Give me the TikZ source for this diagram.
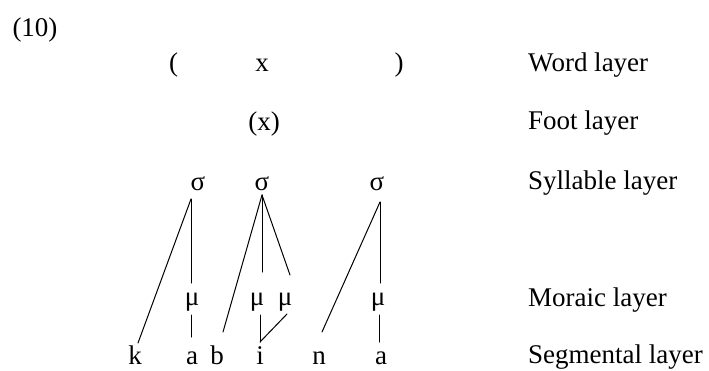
\documentclass[tikz,border=0pt]{standalone}
\usepackage{fontspec}
\setmainfont{Liberation Serif}
\begin{document}
\begin{tikzpicture}[x=1pt,y=-1pt,
  every node/.style={inner sep=0pt, font=\fontsize{27}{32}\selectfont, anchor=base},
  lbl/.style={anchor=base west},
  ln/.style={line width=1pt, line cap=round}]
\useasboundingbox (0,0) rectangle (709,370);
% example number
\node (ex) at (35,36) {(10)};
% word layer
\node (wl) at (173.5,71) {(};
\node (wx) at (262,71) {x};
\node (wr) at (399,71) {)};
\node[lbl] (lw) at (528,71) {Word layer};
% foot layer
\node (fx) at (264,130) {(x)};
\node[lbl] (lf) at (528,129) {Foot layer};
% syllables
\node (s1) at (198,190) {σ};
\node (s2) at (262,190) {σ};
\node (s3) at (377,190) {σ};
\node[lbl] (ls) at (528,189) {Syllable layer};
% morae
\node (m1) at (192,305) {μ};
\node (m2) at (257,305) {μ};
\node (m3) at (285,305) {μ};
\node (m4) at (378,305) {μ};
\node[lbl] (lm) at (528,306) {Moraic layer};
% segments
\node (k) at (135,364) {k};
\node (a1) at (192,364) {a};
\node (b) at (217,364) {b};
\node (i) at (260,364) {i};
\node (n) at (319,364) {n};
\node (a2) at (381,364) {a};
\node[lbl] (lsg) at (528,363.5) {Segmental layer};
% attachment points
\coordinate (s1b) at (191,199);
\coordinate (s2b) at (262,195);
\coordinate (s3b) at (380,202);
\coordinate (m1t) at (191,283);
\coordinate (m2t) at (262,272);
\coordinate (m3t) at (290,275);
\coordinate (m4t) at (380,283);
\coordinate (kt) at (138,343);
\coordinate (bt) at (223,332);
\coordinate (nt) at (322,332);
\coordinate (m1b) at (191,315);
\coordinate (a1t) at (191,337);
\coordinate (m2b) at (260,315);
\coordinate (m3b) at (287,314);
\coordinate (it) at (260,342);
\coordinate (m4b) at (379,315);
\coordinate (a2t) at (379,342);
% association lines
\draw[ln] (s1b) -- (kt);
\draw[ln] (s1b) -- (m1t);
\draw[ln] (s2b) -- (bt);
\draw[ln] (s2b) -- (m2t);
\draw[ln] (s2b) -- (m3t);
\draw[ln] (s3b) -- (nt);
\draw[ln] (s3b) -- (m4t);
\draw[ln] (m1b) -- (a1t);
\draw[ln] (m2b) -- (it);
\draw[ln] (m3b) -- (it);
\draw[ln] (m4b) -- (a2t);
\end{tikzpicture}
\end{document}
